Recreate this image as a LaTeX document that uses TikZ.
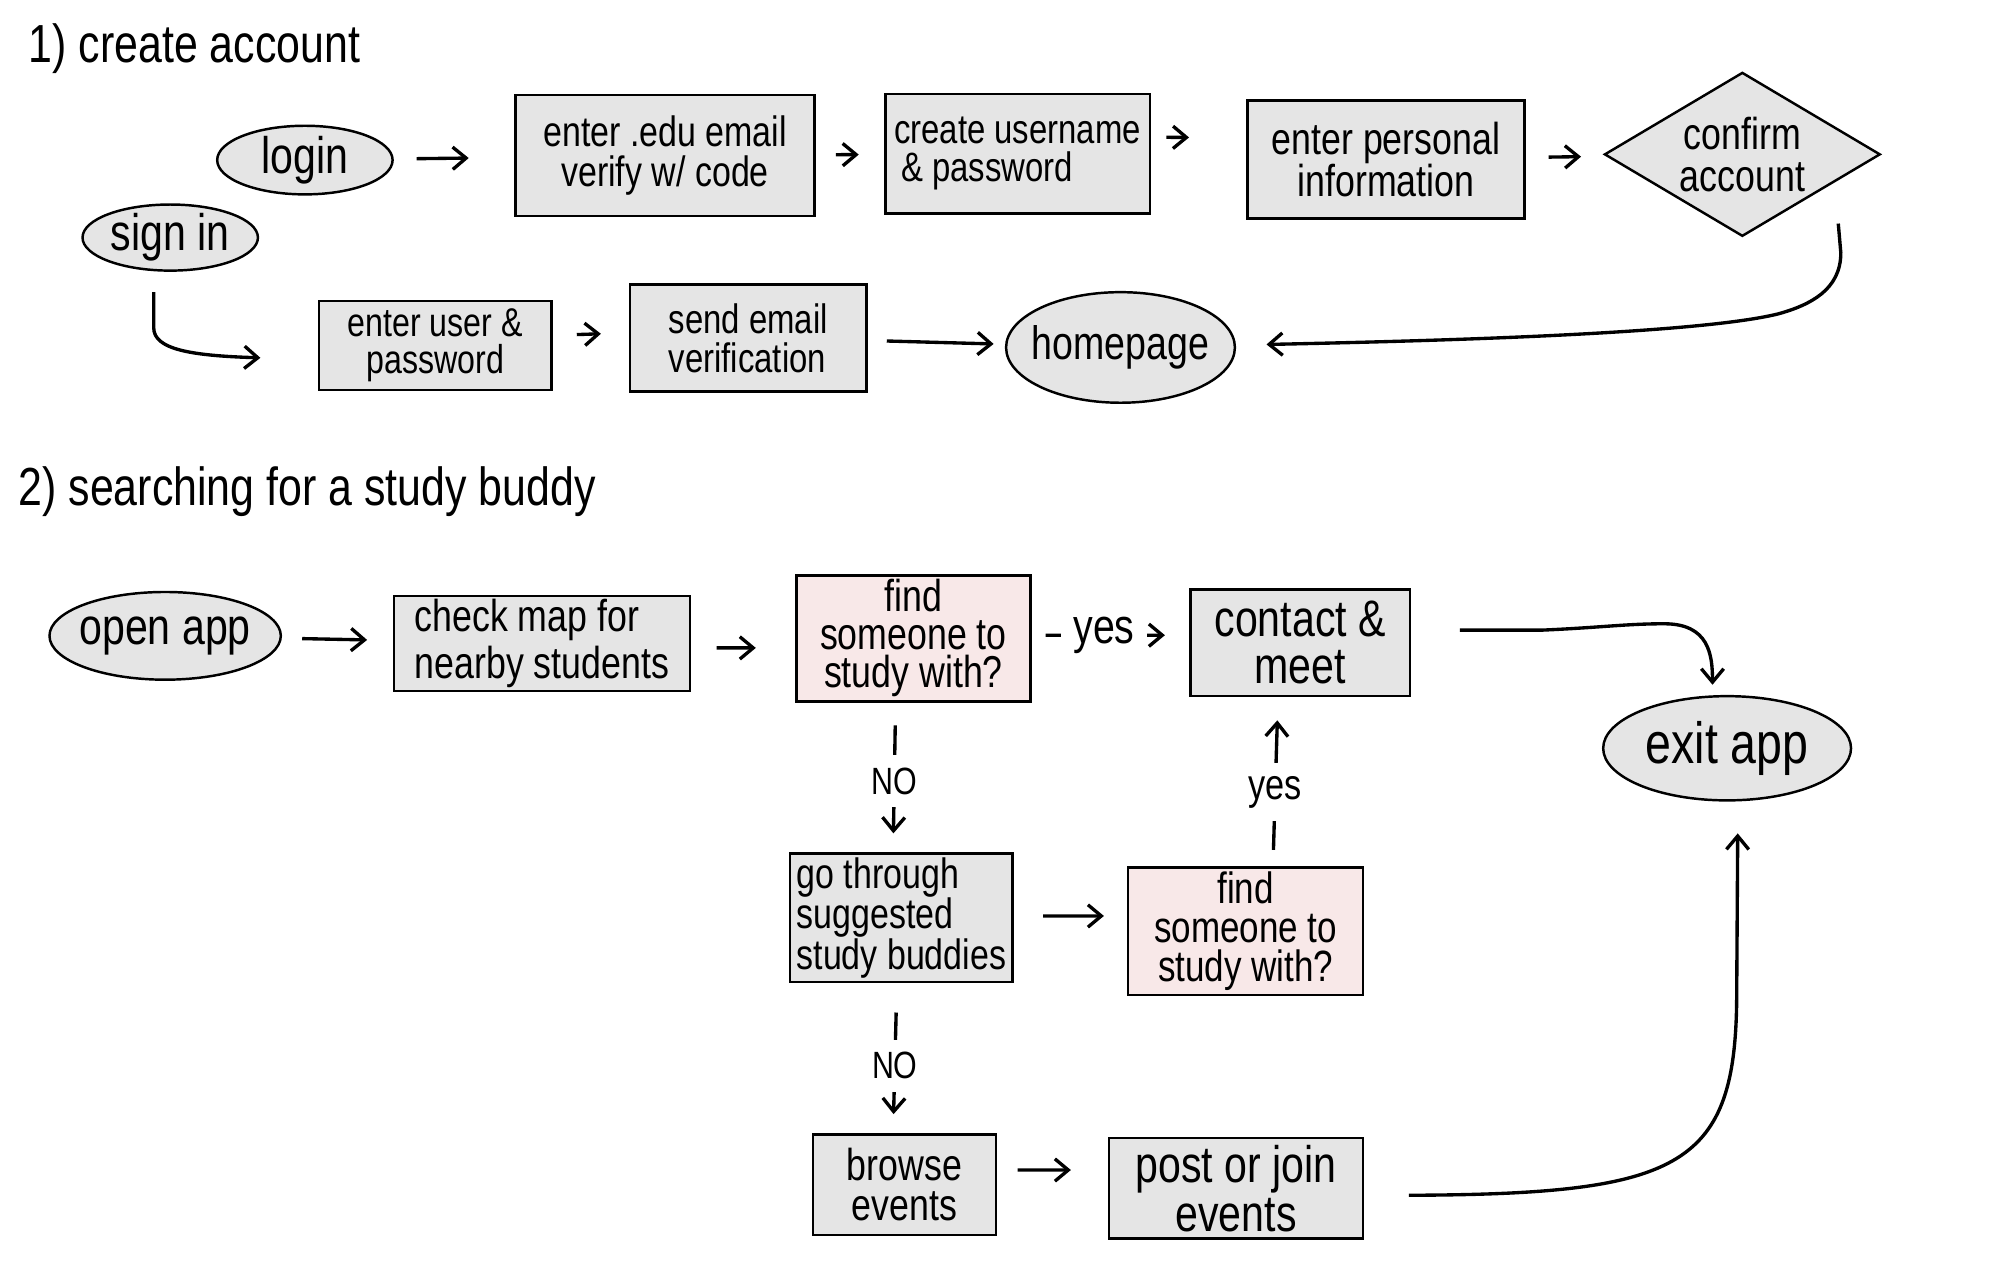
\documentclass[tikz,border=0pt]{standalone}
\usepackage{fontspec}
\setmainfont[FakeStretch=0.8]{Liberation Sans}
\usetikzlibrary{shapes.geometric,arrows.meta}
\definecolor{boxgray}{HTML}{E5E5E5}
\definecolor{boxpink}{HTML}{F8E8E8}
\newcommand{\fsz}[2]{\fontsize{#1pt}{#2pt}\selectfont}
\tikzset{
  box/.style={draw=black, line width=0.55pt, fill=boxgray, rectangle, inner sep=0pt, align=center},
  pinkbox/.style={box, fill=boxpink},
  oval/.style={draw=black, line width=0.55pt, fill=boxgray, ellipse, inner sep=-4pt},
  dia/.style={draw=black, line width=0.55pt, fill=boxgray, diamond, inner sep=0pt, align=center},
  arr/.style={-{Straight Barb[length=3pt,width=5pt]}, line width=0.75pt},
  lbl/.style={fill=white, inner sep=0.1cm},
  title/.style={anchor=west, inner sep=0pt, font=\fsz{12}{14}}
}
\begin{document}
\begin{tikzpicture}[x=0.01cm, y=-0.01cm]
\useasboundingbox (0,0) rectangle (1568,1003);

% titles
\node[title] (t1) at (22,38) {1) create account};
\node[title] (t2) at (14,387) {2) searching for a study buddy};

% section 1
\node[oval, minimum width=1.38cm, minimum height=0.54cm, font=\fsz{11.5}{12}] (login) at (240,126) {login};
\node[oval, minimum width=1.38cm, minimum height=0.52cm, font=\fsz{11.5}{12}] (signin) at (134,187) {sign in};
\node[box, minimum width=2.35cm, minimum height=0.95cm, font=\fsz{9.5}{9}] (b1) at (523.5,122.5) {enter .edu email\\verify w/ code};
\node[box, align=left, minimum width=2.08cm, minimum height=0.94cm, font=\fsz{9.2}{8.5}] (b2) at (801,121) {create username\\\,\& password};
\node[box, minimum width=2.18cm, minimum height=0.93cm, font=\fsz{10}{9.5}] (b3) at (1091,125.5) {enter personal\\information};
\node[dia, minimum width=2.17cm, minimum height=1.29cm, aspect=1.68, font=\fsz{10}{9.5}] (conf) at (1371.5,121.5) {confirm\\account};
\node[box, minimum width=1.83cm, minimum height=0.70cm, font=\fsz{9}{8.2}] (b4) at (342.5,272) {enter user \&\\password};
\node[box, align=left, minimum width=1.86cm, minimum height=0.84cm, font=\fsz{9.2}{8.7}] (b5) at (589,266) {send email\\verification};
\node[oval, minimum width=1.80cm, minimum height=0.87cm, font=\fsz{10.5}{12}] (home) at (882,273.5) {homepage};

\draw[arr, shorten <=0.18cm, shorten >=0.36cm] (login) -- (b1);
\draw[arr, shorten <=0.16cm, shorten >=0.20cm] (b1) -- (b2);
\draw[arr, shorten <=0.12cm, shorten >=0.45cm] ([yshift=0.13cm]b2.east) -- ([yshift=0.17cm]b3.west);
\draw[arr, shorten <=0.18cm, shorten >=0.20cm] (b3) -- (conf);
\coordinate (c1) at (1447,176);
\draw[arr, shorten >=0.24cm] (c1) -- (1449,199) .. controls (1449,228) and (1425,240) .. (1400,247) .. controls (1340,262) and (1150,268) .. (home);
\draw[arr, shorten <=0.16cm, shorten >=0.45cm] ([xshift=-0.13cm]signin.south) -- (121,258) .. controls (121,275) and (150,280) .. ([yshift=-0.11cm]b4.west);
\draw[arr, shorten <=0.19cm, shorten >=0.22cm] ([yshift=0.08cm]b4.east) -- ([yshift=0.04cm]b5.west);
\draw[arr, shorten <=0.15cm, shorten >=0.09cm] ([yshift=-0.02cm]b5.east) -- (home);

% section 2
\node[oval, minimum width=1.82cm, minimum height=0.69cm, font=\fsz{11.5}{12}] (open) at (130,500.5) {open app};
\node[box, align=left, minimum width=2.33cm, minimum height=0.75cm, font=\fsz{10}{9}] (check) at (426.5,506.5) {check map for\\nearby students};
\node[pinkbox, minimum width=1.84cm, minimum height=0.99cm, font=\fsz{10}{8.5}] (find1) at (719,502.5) {find\\someone to\\study with?};
\node[box, minimum width=1.73cm, minimum height=0.84cm, font=\fsz{11.5}{10.5}] (contact) at (1023.5,506) {contact \&\\meet};
\node[oval, minimum width=1.95cm, minimum height=0.82cm, font=\fsz{13}{14}] (exitapp) at (1359.5,589) {exit app};
\node[box, align=left, minimum width=1.75cm, minimum height=1.01cm, font=\fsz{9.5}{9}] (go) at (709.5,722.5) {go through\\suggested\\study buddies};
\node[pinkbox, minimum width=1.85cm, minimum height=1.00cm, font=\fsz{9.8}{8.7}] (find2) at (980.5,733) {find\\someone to\\study with?};
\node[box, minimum width=1.44cm, minimum height=0.79cm, font=\fsz{10}{9}] (browse) at (712,932.5) {browse\\events};
\node[box, minimum width=2.00cm, minimum height=0.79cm, font=\fsz{11.5}{9.5}] (post) at (973,935.5) {post or join\\events};

\draw[arr, shorten <=0.16cm, shorten >=0.20cm] (open) -- (check);
\draw[arr, shorten <=0.20cm, shorten >=0.31cm] ([yshift=-0.035cm]check.east) -- ([yshift=-0.075cm]find1.west);
\draw[arr, shorten <=0.11cm, shorten >=0.19cm] ([yshift=0.025cm]find1.east) -- node[lbl, pos=0.46, font=\fsz{11}{12}] (y1) {yes} ([yshift=0.06cm]contact.west);
\draw[arr, shorten <=0.18cm, shorten >=0.15cm] ([xshift=-0.14cm]find1.south) -- node[lbl, pos=0.525, font=\fsz{8.5}{10}] (n1) {NO} ([xshift=-0.065cm]go.north);
\draw[arr, shorten <=0.23cm, shorten >=0.18cm] ([yshift=0.015cm]go.east) -- ([yshift=0.12cm]find2.west);
\draw[arr, shorten <=0.13cm, shorten >=0.18cm] ([xshift=0.215cm]find2.north) -- node[lbl, pos=0.44, font=\fsz{9.6}{11}] (y2) {yes} ([xshift=-0.175cm]contact.south);
\draw[arr, shorten <=0.23cm, shorten >=0.15cm] ([xshift=-0.035cm]go.south) -- node[lbl, pos=0.55, font=\fsz{8.5}{10}] (n2) {NO} ([xshift=-0.09cm]browse.north);
\draw[arr, shorten <=0.16cm, shorten >=0.29cm] ([yshift=0.115cm]browse.east) -- ([yshift=0.145cm]post.west);
\draw[arr, shorten <=0.38cm, shorten >=0.08cm] ([yshift=0.10cm]contact.east) -- (1214,496) .. controls (1260,494) and (1280,491) .. (1310,491) .. controls (1345,491) and (1348,515) .. ([xshift=-0.115cm]exitapp.north);
\draw[arr, shorten <=0.35cm, shorten >=0.25cm] ([yshift=-0.055cm]post.east) .. controls (1320,940) and (1365,920) .. (1367,790) -- ([xshift=0.085cm]exitapp.south);
\end{tikzpicture}
\end{document}
